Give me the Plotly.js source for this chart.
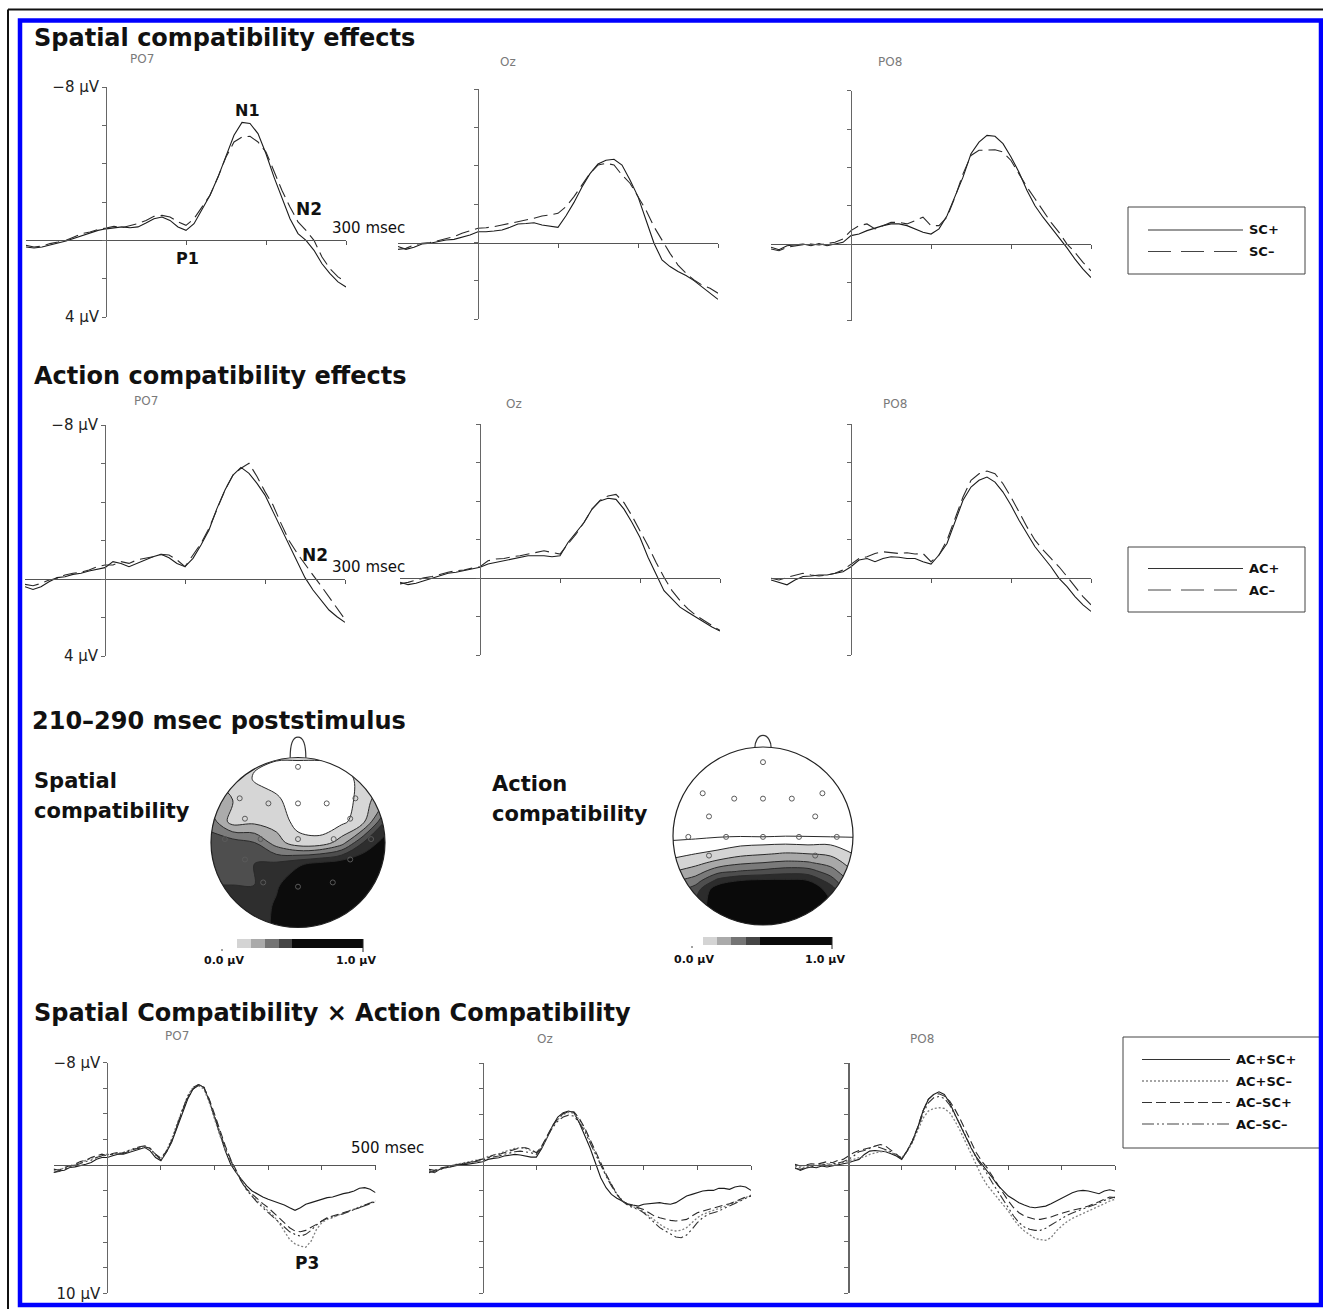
<!DOCTYPE html>
<html><head><meta charset="utf-8">
<script src="https://cdn.plot.ly/plotly-3.0.1.min.js"></script>
<style>html,body{margin:0;padding:0;background:#fff;}#chart{width:1323px;height:1309px;}</style>
</head><body><div id="chart"></div>
<script>
// ---------------- DATA ----------------
const timeShort = [-100,-90,-80,-70,-60,-50,-40,-30,-20,-10,0,10,20,30,40,50,60,70,80,90,100,110,120,130,140,150,160,170,180,190,200,210,220,230,240,250,260,270,280,290,300];
const timeLong = [-100,-90,-80,-70,-60,-50,-40,-30,-20,-10,0,10,20,30,40,50,60,70,80,90,100,110,120,130,140,150,160,170,180,190,200,210,220,230,240,250,260,270,280,290,300,310,320,330,340,350,360,370,380,390,400,410,420,430,440,450,460,470,480,490,500];

// Spatial compatibility (µV)
const sc_PO7_pos = [0.35,0.4,0.35,0.26,0.14,0.03,-0.1,-0.26,-0.38,-0.52,-0.6, -0.66,-0.7,-0.66,-0.7,-0.9,-1.13,-1.22,-1.04,-0.7,-0.52, -0.87,-1.65,-2.35,-3.3,-4.35,-5.48,-6.15,-6.1,-5.57,-4.52, -3.3,-2.26,-1.13,-0.35,0,0.52,1.22,1.74,2.17,2.43];
const sc_PO7_neg = [0.26,0.35,0.3,0.17,0.09,0,-0.17,-0.35,-0.43,-0.56,-0.64, -0.73,-0.66,-0.78,-0.87,-1.04,-1.25,-1.3,-1.22,-0.96,-0.78, -1.13,-1.74,-2.35,-3.3,-4.35,-5.13,-5.39,-5.43,-5.13,-4.61, -3.65,-2.6,-1.74,-0.96,-0.52,0,0.87,1.48,1.91,2.17];
const sc_Oz_pos = [0.2,0.35,0.24,0.07,0.03,-0.05,-0.14,-0.17,-0.28,-0.4,-0.57, -0.57,-0.61,-0.66,-0.8,-0.97,-1.0,-1.04,-0.92,-0.87,-0.8, -1.4,-2.1,-2.9,-3.6,-4.1,-4.3,-4.35,-4.05,-3.27,-2.4, -1.18,0.03,0.9,1.25,1.51,1.72,1.98,2.3,2.64,2.96];
const sc_Oz_neg = [0.35,0.3,0.12,0.03,0,-0.1,-0.23,-0.31,-0.49,-0.63,-0.75, -0.78,-0.83,-0.92,-1.0,-1.1,-1.18,-1.27,-1.39,-1.44,-1.53, -1.88,-2.4,-3.0,-3.62,-4.05,-4.14,-4.05,-3.53,-3.1,-2.4, -1.7,-0.83,-0.14,0.56,1.17,1.6,1.95,2.21,2.38,2.64];
const sc_PO8_pos = [0.17,0.3,0.09,0.03,0,0.09,-0.03,0.09,0,-0.09,-0.44, -0.52,-0.7,-0.84,-0.96,-1.05,-1.05,-0.96,-0.79,-0.61,-0.52, -0.79,-1.48,-2.44,-3.49,-4.71,-5.32,-5.67,-5.62,-5.24,-4.54, -3.75,-2.79,-2.0,-1.4,-0.87,-0.35,0.2,0.79,1.31,1.75];
const sc_PO8_neg = [0.26,0.35,0.17,0.09,0.03,0,0.05,-0.03,-0.09,-0.26,-0.7, -0.96,-1.05,-0.79,-0.96,-1.13,-1.13,-1.05,-1.22,-1.4,-0.96, -0.96,-1.4,-2.44,-3.66,-4.62,-4.89,-4.92,-4.92,-4.8,-4.36, -3.66,-2.97,-2.36,-1.75,-1.13,-0.61,0,0.44,0.96,1.4];

// Action compatibility (µV)
const ac_PO7_pos = [0.4,0.54,0.4,0.14,-0.07,-0.12,-0.24,-0.3,-0.42,-0.52,-0.59, -0.9,-0.81,-0.64,-0.81,-0.99,-1.16,-1.28,-1.1,-0.81,-0.64, -1.07,-1.77,-2.55,-3.67,-4.62,-5.4,-5.8,-5.49,-4.97,-4.36, -3.5,-2.63,-1.77,-0.9,-0.07,0.57,1.09,1.61,1.96,2.25];
const ac_PO7_neg = [0.28,0.35,0.23,0.05,-0.03,-0.21,-0.3,-0.35,-0.47,-0.64,-0.73, -0.73,-0.9,-0.81,-0.99,-1.07,-1.16,-1.28,-1.25,-0.99,-0.64, -1.25,-1.85,-2.63,-3.67,-4.62,-5.4,-5.75,-6.01,-5.32,-4.54, -3.84,-2.89,-2.0,-1.35,-0.75,-0.2,0.35,0.95,1.55,2.1];
const ac_Oz_pos = [0.2,0.33,0.26,0.12,0,-0.14,-0.26,-0.31,-0.4,-0.48,-0.57, -0.74,-0.83,-0.91,-1.0,-1.09,-1.17,-1.17,-1.17,-1.12,-1.17, -1.86,-2.38,-2.9,-3.59,-4.02,-4.16,-4.1,-3.59,-2.9,-2.12, -1.09,-0.22,0.64,1.07,1.5,1.76,2.02,2.28,2.53,2.74];
const ac_Oz_neg = [0.29,0.21,0.09,-0.02,-0.09,-0.22,-0.31,-0.4,-0.43,-0.53,-0.6, -0.91,-1.0,-1.03,-1.12,-1.17,-1.26,-1.34,-1.43,-1.34,-1.26, -1.78,-2.29,-2.9,-3.59,-4.05,-4.28,-4.36,-3.93,-3.24,-2.47, -1.69,-0.83,-0.05,0.64,1.16,1.59,1.93,2.19,2.45,2.71];
const ac_PO8_pos = [0.09,0.22,0.34,0.09,-0.09,-0.12,-0.17,-0.17,-0.26,-0.34,-0.6, -0.95,-1.03,-0.86,-1.03,-1.12,-1.09,-1.03,-1.03,-0.86,-0.74, -1.21,-1.81,-2.93,-4.05,-4.74,-5.09,-5.26,-5.0,-4.48,-3.79, -3.02,-2.33,-1.64,-1.12,-0.6,0,0.43,0.95,1.38,1.72];
const ac_PO8_neg = [0,0.09,-0.05,-0.17,-0.26,-0.17,-0.12,-0.17,-0.26,-0.43,-0.74, -1.03,-1.12,-1.29,-1.38,-1.33,-1.29,-1.33,-1.26,-1.29,-0.86, -1.21,-1.98,-3.1,-4.22,-5.09,-5.43,-5.57,-5.43,-4.91,-4.22, -3.45,-2.67,-1.98,-1.47,-1.03,-0.6,-0.09,0.43,0.95,1.38];

// Interaction (µV): AC+SC+, AC+SC−, AC−SC+, AC−SC−
const ix_PO7_pp = [0.57,0.44,0.39,0.18,0.13,0.05,-0.08,-0.21,-0.47,-0.6,-0.6, -0.73,-0.86,-0.86,-0.99,-1.07,-1.25,-1.38,-1.12,-0.6,-0.34, -0.99,-1.78,-2.95,-4.13,-5.17,-5.95,-6.29,-6.08,-5.04,-3.73, -2.43,-1.12,-0.08,0.57,1.1,1.62,2.01,2.27,2.48,2.66, 2.79,2.92,3.1,3.32,3.52,3.32,3.05,2.92,2.79,2.66, 2.53,2.48,2.32,2.22,2.14,2.01,1.8,1.75,1.88,2.14];
const ix_PO7_pn = [0.44,0.31,0.23,0.13,-0.03,-0.21,-0.34,-0.55,-0.6,-0.73,-0.81, -0.86,-0.91,-0.99,-1.12,-1.25,-1.38,-1.44,-1.25,-0.73,-0.47, -1.12,-2.04,-3.21,-4.39,-5.43,-6.08,-6.21,-5.95,-4.91,-3.6, -2.3,-1.25,-0.34,0.44,1.23,1.88,2.4,2.79,3.19,3.58, 3.97,4.49,5.14,5.8,6.14,6.32,6.4,5.93,5.01,4.49, 4.23,4.1,3.89,3.79,3.58,3.45,3.26,3.11,2.92,2.79];
const ix_PO7_np = [0.31,0.39,0.18,0.05,-0.08,-0.29,-0.39,-0.6,-0.73,-0.86,-0.73, -0.91,-0.99,-0.91,-1.07,-1.25,-1.33,-1.44,-1.33,-0.86,-0.55, -1.07,-1.91,-3.0,-4.26,-5.25,-5.95,-6.21,-6.08,-5.17,-3.99, -2.69,-1.51,-0.47,0.44,1.23,1.88,2.27,2.66,3.0,3.32, 3.71,4.1,4.49,4.88,5.14,5.2,5.09,4.88,4.62,4.36, 4.1,3.97,3.84,3.71,3.58,3.45,3.32,3.11,2.92,2.79];
const ix_PO7_nn = [0.57,0.5,0.31,0.18,0.05,-0.13,-0.29,-0.39,-0.6,-0.73,-0.86, -0.81,-0.86,-0.99,-1.17,-1.31,-1.44,-1.51,-1.31,-0.81,-0.39, -0.99,-1.85,-3.08,-4.31,-5.35,-6.08,-6.29,-6.14,-5.09,-3.79, -2.48,-1.33,-0.34,0.5,1.28,1.96,2.48,2.92,3.32,3.71, 4.1,4.44,4.83,5.2,5.4,5.54,5.4,5.09,4.67,4.36, 4.15,4.05,3.89,3.79,3.63,3.47,3.32,3.19,3.0,2.85];

const ix_Oz_pp = [0.44,0.57,0.31,0.18,0.13,0.05,-0.08,-0.08,-0.13,-0.21,-0.29, -0.47,-0.55,-0.6,-0.73,-0.81,-0.86,-0.81,-0.73,-0.65,-0.65, -1.33,-2.17,-3.08,-3.79,-4.13,-4.26,-4.13,-3.34,-2.43,-1.38, -0.21,0.97,1.75,2.27,2.58,2.79,3.0,3.11,3.19,3.05, 3.0,2.92,2.92,3.0,3.05,2.92,2.66,2.4,2.27,2.14, 2.01,1.96,1.96,1.8,1.8,1.88,1.7,1.62,1.7,1.96];
const ix_Oz_pn = [0.39,0.5,0.29,0.16,0.03,-0.08,-0.16,-0.26,-0.34,-0.42,-0.5, -0.7,-0.81,-0.91,-1.07,-1.23,-1.33,-1.38,-1.33,-1.17,-0.97, -1.44,-2.22,-3.0,-3.6,-3.99,-4.15,-4.1,-3.58,-2.82,-1.91, -0.97,-0.08,0.76,1.54,2.22,2.74,3.05,3.24,3.39,3.63, 3.97,4.31,4.62,4.88,5.07,5.14,5.09,4.88,4.49,4.1, 3.84,3.66,3.52,3.39,3.24,3.05,2.9,2.72,2.53,2.32];
const ix_Oz_np = [0.31,0.39,0.23,0.13,0.05,-0.08,-0.13,-0.18,-0.29,-0.39,-0.47, -0.6,-0.81,-0.86,-0.99,-1.12,-1.25,-1.38,-1.38,-1.25,-0.99, -1.51,-2.3,-3.08,-3.68,-4.05,-4.2,-4.2,-3.68,-2.95,-2.04, -1.12,-0.21,0.7,1.49,2.27,2.79,3.05,3.19,3.32,3.45, 3.71,3.97,4.1,4.23,4.31,4.36,4.31,4.23,3.97,3.71, 3.58,3.45,3.32,3.19,3.11,3.0,2.85,2.66,2.48,2.4];
const ix_Oz_nn = [0.57,0.44,0.31,0.18,0.05,-0.03,-0.13,-0.21,-0.29,-0.34,-0.39, -0.6,-0.65,-0.73,-0.86,-0.99,-1.07,-1.12,-1.07,-0.99,-0.86, -1.38,-2.22,-2.95,-3.47,-3.79,-3.94,-3.86,-3.34,-2.69,-1.78, -0.86,0.05,0.84,1.62,2.27,2.79,3.11,3.32,3.45,3.71, 4.1,4.49,4.88,5.14,5.4,5.61,5.67,5.46,5.01,4.49, 4.1,3.84,3.71,3.58,3.37,3.19,3.0,2.79,2.58,2.4];

const ix_PO8_pp = [0.18,0.39,0.23,0.13,0.18,0.05,0.13,0.05,-0.08,-0.13,-0.21, -0.34,-0.47,-0.86,-1.12,-1.17,-1.12,-1.07,-0.91,-0.73,-0.47, -1.12,-1.91,-2.95,-4.26,-5.17,-5.56,-5.77,-5.56,-4.91,-3.99, -3.08,-2.17,-1.38,-0.65,-0.13,0.39,0.97,1.54,2.01,2.4, 2.66,2.92,3.11,3.26,3.32,3.26,3.19,3.0,2.79,2.53, 2.32,2.14,2.01,1.96,2.01,2.14,2.22,2.01,1.91,2.01];
const ix_PO8_pn = [0.05,0.18,0.13,0.05,-0.03,-0.08,-0.13,-0.03,-0.13,-0.21,-0.34, -0.47,-0.6,-0.65,-0.86,-0.99,-1.07,-1.12,-0.99,-0.86,-0.6, -1.07,-1.78,-2.69,-3.68,-4.26,-4.46,-4.52,-4.46,-4.13,-3.47, -2.69,-1.78,-0.86,0.05,0.84,1.54,2.06,2.53,3.05,3.58, 4.23,4.75,5.14,5.46,5.72,5.82,5.87,5.67,5.14,4.75, 4.41,4.15,3.97,3.79,3.58,3.37,3.19,3.0,2.79,2.66];
const ix_PO8_np = [-0.08,0.05,-0.03,-0.13,-0.08,-0.21,-0.29,-0.21,-0.39,-0.47,-0.73, -0.99,-1.17,-1.25,-1.38,-1.51,-1.64,-1.51,-1.17,-0.86,-0.55, -1.12,-1.91,-3.0,-4.26,-5.17,-5.56,-5.61,-5.43,-5.04,-4.39, -3.6,-2.69,-1.78,-0.99,-0.34,0.18,0.84,1.49,2.14,2.79, 3.32,3.71,3.97,4.1,4.23,4.23,4.15,4.05,3.89,3.79, 3.63,3.52,3.45,3.32,3.19,3.05,2.85,2.66,2.48,2.53];
const ix_PO8_nn = [0.23,0.31,0.18,0.08,0.03,-0.03,-0.08,-0.13,-0.18,-0.29,-0.47, -0.73,-1.07,-1.17,-1.33,-1.51,-1.38,-1.25,-1.07,-0.81,-0.5, -1.12,-1.85,-2.9,-4.05,-4.91,-5.3,-5.4,-5.25,-4.73,-3.99, -3.16,-2.3,-1.38,-0.55,0.05,0.65,1.36,2.01,2.66,3.32, 3.97,4.49,4.83,5.01,5.09,5.09,4.93,4.67,4.41,4.15, 3.92,3.73,3.58,3.42,3.26,3.11,2.95,2.74,2.58,2.48];

// Tick values / labels
const xTicksShort = [100,200,300];
const xTicksLong = [100,200,300,400,500];
const yTicksShort = [-8,-6,-4,-2,0,2,4];
const yTicksLong = [-8,-6,-4,-2,0,2,4,6,8,10];
const yLabelsShort = ['−8 µV','','','','','','4 µV'];
const yLabelsLong = ['−8 µV','','','','','','','','','10 µV'];
const electrodeNames = ['PO7','Oz','PO8'];
const legendSC = ['SC+','SC–'];
const legendAC = ['AC+','AC–'];
const legendIX = ['AC+SC+','AC+SC–','AC–SC+','AC–SC–'];

// Topographic maps (µV, 210–290 msec), grid in head-radius units
const topoGridX = [-1,-0.75,-0.5,-0.25,0,0.25,0.5,0.75,1];
const spatialGridY = [-1,-0.75,-0.5,-0.25,0,0.25,0.5,0.75,1];
const spatialZ = [
 [0.55,0.55,0.55,0.62,0.70,0.72,0.72,0.72,0.72],
 [0.52,0.52,0.52,0.62,0.72,0.72,0.72,0.72,0.72],
 [0.50,0.50,0.50,0.58,0.70,0.72,0.72,0.72,0.72],
 [0.50,0.50,0.50,0.52,0.58,0.63,0.67,0.70,0.72],
 [0.45,0.45,0.40,0.25,0.13,0.13,0.25,0.50,0.65],
 [0.35,0.15,0.17,0.15,0.07,0.04,0.07,0.17,0.50],
 [0.28,0.20,0.15,0.12,0.04,0.03,0.05,0.14,0.30],
 [0.20,0.18,0.09,0.05,0.04,0.04,0.05,0.14,0.20],
 [0.15,0.15,0.12,0.11,0.11,0.11,0.12,0.15,0.15]];
const actionGridY = [-1,-0.75,-0.6,-0.5,-0.4,-0.3,-0.2,-0.1,0,0.25,0.5,0.75,1];
const actionZ = [
 [0.60,0.60,0.80,0.80,0.80,0.80,0.80,0.70,0.50],
 [0.58,0.60,0.80,0.80,0.80,0.80,0.80,0.70,0.50],
 [0.45,0.55,0.78,0.80,0.80,0.80,0.78,0.66,0.40],
 [0.38,0.45,0.63,0.70,0.72,0.72,0.70,0.55,0.35],
 [0.30,0.35,0.47,0.51,0.53,0.56,0.55,0.45,0.30],
 [0.22,0.27,0.33,0.38,0.40,0.42,0.41,0.36,0.25],
 [0.18,0.20,0.23,0.27,0.29,0.31,0.30,0.28,0.20],
 [0.12,0.14,0.16,0.19,0.20,0.21,0.20,0.20,0.16],
 [0.08,0.08,0.09,0.095,0.09,0.098,0.095,0.09,0.09],
 [0.05,0.05,0.05,0.05,0.05,0.05,0.05,0.05,0.05],
 [0.04,0.04,0.04,0.04,0.04,0.04,0.04,0.04,0.04],
 [0.03,0.03,0.03,0.03,0.03,0.03,0.03,0.03,0.03],
 [0.03,0.03,0.03,0.03,0.03,0.03,0.03,0.03,0.03]];
const spatialElecX = [0,-0.67,-0.34,0,0.33,0.66,-0.61,0.6,-0.84,-0.43,0,0.41,0.84,-0.61,0.6,-0.4,0,0.4];
const spatialElecY = [0.89,0.52,0.46,0.46,0.46,0.52,0.28,0.28,0.04,0.04,0.04,0.04,0.04,-0.2,-0.2,-0.47,-0.52,-0.47];
const actionElecX = [0,-0.67,-0.32,0,0.32,0.66,-0.6,0.58,-0.83,-0.41,0,0.4,0.82,-0.6,0.58];
const actionElecY = [0.83,0.48,0.42,0.42,0.42,0.48,0.22,0.22,-0.01,-0.01,-0.01,-0.01,-0.01,-0.22,-0.22];
const scaleEdges = [0.0,0.11,0.22,0.33,0.44,0.56,0.67,0.78,0.89,1.0];
const scaleLevels = [0.05,0.16,0.27,0.38,0.5,0.61,0.72,0.83,0.94];
const scaleLabels = ['0.0 µV','1.0 µV'];

// ---------------- LAYOUT HELPERS ----------------
const W = 1323, H = 1309;
const PX = p => p / W;
const PY = p => 1 - p / H;
const FONT = 'DejaVu Sans, Liberation Sans, Arial, sans-serif';

const STY = {
  solid:   {color:'#1c1c1c', width:1.1, dash:'solid'},
  longdash:{color:'#2a2a2a', width:1.1, dash:'14px,6px'},
  dot:     {color:'#808080', width:1.3, dash:'2px,2px'},
  dash:    {color:'#2a2a2a', width:1.1, dash:'8px,4px'},
  dashdot: {color:'#333333', width:1.1, dash:'9px,3px,2px,3px,2px,3px'}
};

const panels = [
  {t:timeShort, s:[sc_PO7_pos, sc_PO7_neg], st:['solid','longdash'], box:[26,346,87,317], tr:[-100,300], vr:[-8,4], xt:xTicksShort, yt:yTicksShort, yl:yLabelsShort, nm:0, np:[142,59]},
  {t:timeShort, s:[sc_Oz_pos, sc_Oz_neg],   st:['solid','longdash'], box:[398,718,89.3,319.3], tr:[-100,300], vr:[-8,4], xt:xTicksShort, yt:yTicksShort, yl:null, nm:1, np:[508,62]},
  {t:timeShort, s:[sc_PO8_pos, sc_PO8_neg], st:['solid','longdash'], box:[771,1091,90.7,320.7], tr:[-100,300], vr:[-8,4], xt:xTicksShort, yt:yTicksShort, yl:null, nm:2, np:[890,62]},
  {t:timeShort, s:[ac_PO7_pos, ac_PO7_neg], st:['solid','longdash'], box:[25,345,425,656], tr:[-100,300], vr:[-8,4], xt:xTicksShort, yt:yTicksShort, yl:yLabelsShort, nm:0, np:[146,401]},
  {t:timeShort, s:[ac_Oz_pos, ac_Oz_neg],   st:['solid','longdash'], box:[400,720,424.3,655.3], tr:[-100,300], vr:[-8,4], xt:xTicksShort, yt:yTicksShort, yl:null, nm:1, np:[514,404]},
  {t:timeShort, s:[ac_PO8_pos, ac_PO8_neg], st:['solid','longdash'], box:[771,1091,424.3,655.3], tr:[-100,300], vr:[-8,4], xt:xTicksShort, yt:yTicksShort, yl:null, nm:2, np:[895,404]},
  {t:timeLong, s:[ix_PO7_pp, ix_PO7_pn, ix_PO7_np, ix_PO7_nn], st:['solid','dot','dash','dashdot'], box:[53.6,375.5,1062.7,1293.3], tr:[-100,500], vr:[-8,10], xt:xTicksLong, yt:yTicksLong, yl:yLabelsLong, nm:0, np:[177,1036]},
  {t:timeLong, s:[ix_Oz_pp, ix_Oz_pn, ix_Oz_np, ix_Oz_nn], st:['solid','dot','dash','dashdot'], box:[429,751,1063.3,1293], tr:[-100,500], vr:[-8,10], xt:xTicksLong, yt:yTicksLong, yl:null, nm:1, np:[545,1039]},
  {t:timeLong, s:[ix_PO8_pp, ix_PO8_pn, ix_PO8_np, ix_PO8_nn], st:['solid','dot','dash','dashdot'], box:[795,1115,1063.3,1293], tr:[-100,500], vr:[-8,10], xt:xTicksLong, yt:yTicksLong, yl:null, nm:2, np:[922,1039]}
];

const traces = [];
const layout = {
  width: W, height: H, margin:{l:0,r:0,t:0,b:0}, paper_bgcolor:'#fff', plot_bgcolor:'rgba(0,0,0,0)',
  showlegend:false, font:{family:FONT, color:'#111'}, shapes:[], annotations:[]
};
const ann = (text, x, y, size, opts) => layout.annotations.push(Object.assign({
  text, x:PX(x), y:PY(y), xref:'paper', yref:'paper', showarrow:false, xanchor:'left', yanchor:'middle',
  font:{family:FONT, size, color:'#111'}
}, opts || {}));

panels.forEach((p, i) => {
  const k = i + 1, sx = k === 1 ? '' : String(k);
  const [x0, x1, y0, y1] = p.box;
  const t0 = x0 + (0 - p.tr[0]) / (p.tr[1] - p.tr[0]) * (x1 - x0);
  const v0 = y0 + (0 - p.vr[0]) / (p.vr[1] - p.vr[0]) * (y1 - y0);
  layout['xaxis' + sx] = {
    domain:[PX(x0), PX(x1)], range:p.tr, anchor:'free', position:PY(v0),
    showline:true, linecolor:'#555', linewidth:1, ticks:'outside', tickvals:p.xt, ticklen:4, tickwidth:1, tickcolor:'#555',
    showticklabels:false, showgrid:false, zeroline:false, fixedrange:true
  };
  layout['yaxis' + sx] = {
    domain:[PY(y1), PY(y0)], range:[p.vr[1], p.vr[0]], anchor:'free', position:PX(t0),
    showline:true, linecolor:'#666', linewidth:1.2, ticks:'outside', tickvals:p.yt, ticklen:4, tickwidth:1, tickcolor:'#666',
    ticktext: p.yl ? p.yl : p.yt.map(() => ''), showticklabels: !!p.yl,
    tickfont:{family:FONT, size:15, color:'#222'}, showgrid:false, zeroline:false, fixedrange:true
  };
  p.s.forEach((ser, j) => traces.push({
    type:'scatter', mode:'lines', x:p.t, y:ser, xaxis:'x' + sx, yaxis:'y' + sx,
    line:Object.assign({}, STY[p.st[j]]), hoverinfo:'skip'
  }));
  ann(electrodeNames[p.nm], p.np[0], p.np[1], 12, {xanchor:'center', font:{family:FONT, size:12, color:'#7a7a7a'}});
});

// ---------------- TOPOGRAPHIC MAPS ----------------
const topo = [
  {k:10, x:topoGridX, y:spatialGridY, z:spatialZ, ex:spatialElecX, ey:spatialElecY, cx:298, cy:842.5, rx:87, ry:85, ytop:1.28, nose:1.24,
   start:0.1, end:0.6, cs:['#ffffff','#d6d6d6','#ababab','#7c7c7c','#4e4e4e','#2e2e2e','#0c0c0c']},
  {k:11, x:topoGridX, y:actionGridY, z:actionZ, ex:actionElecX, ey:actionElecY, cx:763, cy:836, rx:90, ry:89, ytop:1.18, nose:1.13,
   start:0.1, end:0.7, cs:['#ffffff','#ffffff','#d4d4d4','#a8a8a8','#7a7a7a','#4e4e4e','#2c2c2c','#0a0a0a']}
];
topo.forEach(m => {
  const sx = String(m.k);
  layout['xaxis' + sx] = {domain:[PX(m.cx - 1.03*m.rx), PX(m.cx + 1.03*m.rx)], range:[-1.03, 1.03], visible:false, fixedrange:true, anchor:'y'+sx};
  layout['yaxis' + sx] = {domain:[PY(m.cy + 1.03*m.ry), PY(m.cy - m.ytop*m.ry)], range:[-1.03, m.ytop], visible:false, fixedrange:true, anchor:'x'+sx};
  const n = m.cs.length - 1;
  traces.push({
    type:'contour', x:m.x, y:m.y, z:m.z, xaxis:'x'+sx, yaxis:'y'+sx, autocontour:false,
    contours:{start:m.start, end:m.end, size:0.1, coloring:'fill', showlines:true},
    line:{color:'#2a2a2a', width:1, smoothing:1}, colorscale:m.cs.map((c, i) => [i / n, c]),
    showscale:false, hoverinfo:'skip'
  });
  traces.push({
    type:'scatter', mode:'markers', x:m.ex, y:m.ey, xaxis:'x'+sx, yaxis:'y'+sx,
    marker:{symbol:'circle-open', size:5, color:'#5a5a5a', line:{width:1}}, hoverinfo:'skip'
  });
  const k = 0.5523;
  layout.shapes.push({type:'path', xref:'x'+sx, yref:'y'+sx, layer:'above', fillrule:'evenodd', fillcolor:'#ffffff', line:{width:0},
    path:`M -1.3 -1.3 L 1.3 -1.3 L 1.3 1.5 L -1.3 1.5 Z M 1 0 C 1 ${k} ${k} 1 0 1 C ${-k} 1 -1 ${k} -1 0 C -1 ${-k} ${-k} -1 0 -1 C ${k} -1 1 ${-k} 1 0 Z`});
  layout.shapes.push({type:'circle', xref:'x'+sx, yref:'y'+sx, layer:'above', x0:-1, x1:1, y0:-1, y1:1, line:{color:'#222', width:1.2}});
  layout.shapes.push({type:'path', xref:'x'+sx, yref:'y'+sx, layer:'above', fillcolor:'rgba(0,0,0,0)', line:{color:'#333', width:1.2},
    path:`M -0.09 0.996 C -0.09 ${m.nose-0.08} -0.06 ${m.nose} 0 ${m.nose} C 0.06 ${m.nose} 0.09 ${m.nose-0.08} 0.09 0.996`});
});

// colour scale bars
const cbarScale = [[0,'#d4d4d4'],[0.11,'#d4d4d4'],[0.11,'#aaaaaa'],[0.22,'#aaaaaa'],[0.22,'#747474'],[0.33,'#747474'],[0.33,'#454545'],[0.44,'#454545'],[0.44,'#0a0a0a'],[1,'#0a0a0a']];
const cbars = [
  {k:12, box:[237,363,939,948], lab:[[224,960],[356,960]]},
  {k:13, box:[703,832,937,945], lab:[[694,959],[825,959]]}
];
const pshape = (o) => layout.shapes.push(Object.assign({xref:'paper', yref:'paper', layer:'above'}, o));
cbars.forEach(c => {
  const sx = String(c.k);
  layout['xaxis' + sx] = {domain:[PX(c.box[0]), PX(c.box[1])], range:[0,1], visible:false, fixedrange:true, anchor:'y'+sx};
  layout['yaxis' + sx] = {domain:[PY(c.box[3]), PY(c.box[2])], range:[0,1], visible:false, fixedrange:true, anchor:'x'+sx};
  traces.push({type:'heatmap', x:scaleEdges, y:[0,1], z:[scaleLevels], zmin:0, zmax:1, colorscale:cbarScale, showscale:false,
    xaxis:'x'+sx, yaxis:'y'+sx, hoverinfo:'skip'});
  c.lab.forEach((l, i) => ann('<b>' + scaleLabels[i] + '</b>', l[0], l[1], 11, {xanchor:'center'}));
  // small end marks of the scale bar
  pshape({type:'line', x0:PX(c.box[1]), x1:PX(c.box[1]), y0:PY(c.box[2]), y1:PY(c.box[3] + 4), line:{color:'#222', width:1}});
  pshape({type:'line', x0:PX(c.lab[0][0] - 2), x1:PX(c.lab[0][0] - 2), y0:PY(c.box[3] + 1), y1:PY(c.box[3] + 3), line:{color:'#444', width:1}});
});

// ---------------- TEXT ----------------
ann('<b>Spatial compatibility effects</b>', 32, 38, 24);
ann('<b>Action compatibility effects</b>', 32, 376, 24);
ann('<b>210–290 msec poststimulus</b>', 30, 721, 24);
ann('<b>Spatial Compatibility × Action Compatibility</b>', 32, 1013, 24);
ann('<b>Spatial</b>', 32, 781, 21);
ann('<b>compatibility</b>', 32, 811, 21);
ann('<b>Action</b>', 490, 784, 21);
ann('<b>compatibility</b>', 490, 814, 21);
ann('<b>N1</b>', 247, 110, 16, {xanchor:'center'});
ann('<b>N2</b>', 309, 209, 17, {xanchor:'center'});
ann('<b>P1</b>', 187, 258, 16, {xanchor:'center'});
ann('<b>N2</b>', 315, 555, 17, {xanchor:'center'});
ann('<b>P3</b>', 307, 1263, 17, {xanchor:'center'});
ann('300 msec', 368, 228, 15, {xanchor:'center'});
ann('300 msec', 368, 567, 15, {xanchor:'center'});
ann('500 msec', 387, 1148, 15, {xanchor:'center'});

// ---------------- LEGENDS ----------------
const legendBox = (x0, y0, x1, y1, names, styles, rows, lx0, lx1, tx) => {
  pshape({type:'rect', x0:PX(x0), x1:PX(x1), y0:PY(y1), y1:PY(y0), line:{color:'#444', width:1}, fillcolor:'rgba(0,0,0,0)'});
  names.forEach((nm, i) => {
    const s = styles[i];
    pshape({type:'line', x0:PX(lx0), x1:PX(lx1), y0:PY(rows[i]), y1:PY(rows[i]), line:{color:s.color, width:s.width, dash:s.dash}});
    ann('<b>' + nm + '</b>', tx, rows[i], 13);
  });
};
const legLong = {color:'#444', width:1, dash:'23px,10px'};
legendBox(1128, 207, 1305, 274, legendSC, [{color:'#333',width:1.1,dash:'solid'}, legLong], [230, 251.5], 1148, 1243, 1247);
legendBox(1128, 547, 1305, 612, legendAC, [{color:'#333',width:1.1,dash:'solid'}, legLong], [568.5, 590], 1148, 1243, 1247);
legendBox(1123, 1037, 1335, 1148, legendIX,
  [{color:'#333',width:1.1,dash:'solid'}, {color:'#888',width:1.3,dash:'2px,2px'}, {color:'#333',width:1.1,dash:'10px,4px'}, {color:'#444',width:1.1,dash:'12px,3px,2px,3px,2px,3px'}],
  [1059.5, 1081, 1102.5, 1124], 1142, 1230, 1234);

// ---------------- FRAMES ----------------
pshape({type:'line', x0:PX(8), x1:PX(1330), y0:PY(9.5), y1:PY(9.5), line:{color:'#111', width:2}});
pshape({type:'line', x0:PX(8), x1:PX(8), y0:PY(9.5), y1:PY(1320), line:{color:'#111', width:2}});
pshape({type:'rect', x0:PX(20), x1:PX(1321), y0:PY(1305), y1:PY(20.5), line:{color:'#0000ff', width:4.5}, fillcolor:'rgba(0,0,0,0)'});

Plotly.newPlot('chart', traces, layout, {staticPlot:true, displayModeBar:false});
</script></body></html>
